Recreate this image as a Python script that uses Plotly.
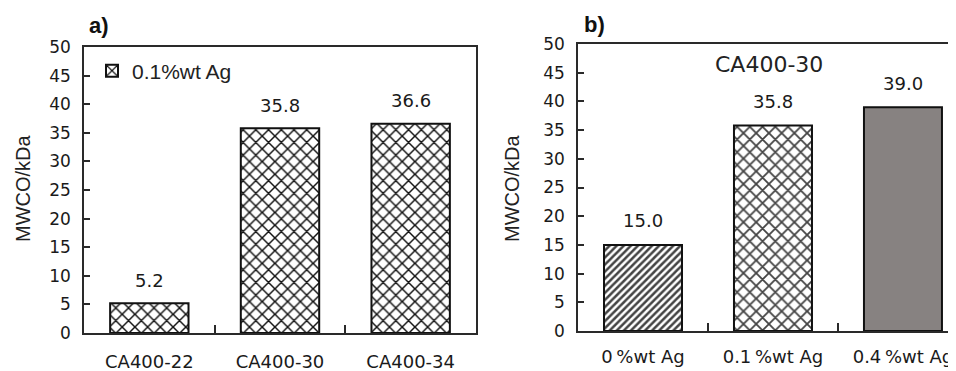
import plotly.graph_objects as go

# ---- data ----
cats_a = ["CA400-22", "CA400-30", "CA400-34"]
vals_a = [5.2, 35.8, 36.6]
series_a = "0.1%wt Ag"

cats_b = ["0\u2009%wt Ag", "0.1\u2009%wt Ag", "0.4\u2009%wt Ag"]
vals_b = [15.0, 35.8, 39.0]
group_b = "CA400-30"

y_ticks = [0, 5, 10, 15, 20, 25, 30, 35, 40, 45, 50]
y_title = "MWCO/kDa"

TICKFONT = dict(family="DejaVu Sans", size=17, color="#1a1a1a")
XFONT = dict(family="DejaVu Sans", size=18, color="#1a1a1a")
AXC = "#2a2a2a"

# page body has an 8px default margin: work in screen pixels and convert
OFF = 8
W, H = 956 - OFF, 371 - OFF
def px(sx):
    return (sx - OFF) / W
def py(sy):
    return (H - (sy - OFF)) / H

fig = go.Figure()

fig.add_trace(go.Bar(
    x=cats_a, y=vals_a, name=series_a, xaxis="x", yaxis="y", width=0.6,
    marker=dict(color="white", line=dict(color="#111", width=2),
                pattern=dict(shape="x", size=9, solidity=0.3, fgcolor="#111", bgcolor="white",
                             fgopacity=1)),
    showlegend=True,
))

fig.add_trace(go.Bar(
    x=cats_b, y=vals_b, name=group_b, xaxis="x2", yaxis="y2", width=0.6,
    marker=dict(color=["white", "white", "#878281"], line=dict(color="#111", width=2),
                pattern=dict(shape=["/", "x", ""], size=[5, 9, 9], solidity=[0.5, 0.36, 0.3],
                             fgcolor="#000", fgopacity=1, bgcolor=["white", "white", "#878281"])),
    showlegend=False,
))

def xax(domain, rng, cats, standoff):
    return dict(domain=domain, range=rng, type="category", categoryarray=cats, automargin=False,
                showline=True, linecolor=AXC, linewidth=1.5, mirror=True,
                ticks="inside", tickson="boundaries", ticklen=8, tickcolor=AXC, tickwidth=1.5,
                tickfont=XFONT, ticklabelstandoff=standoff, showgrid=False, zeroline=False,
                fixedrange=True)

def yax(domain, anchor, mirror):
    return dict(domain=domain, anchor=anchor, range=[0, 50], tickvals=y_ticks, automargin=False,
                showline=True, linecolor=AXC, linewidth=1.5, mirror=mirror,
                ticks="inside", ticklen=6, tickcolor=AXC, tickwidth=1.5,
                tickfont=TICKFONT, ticklabelstandoff=8, showgrid=False, zeroline=False,
                fixedrange=True)

fig.update_layout(
    width=W, height=H, margin=dict(l=0, r=0, t=0, b=0, autoexpand=False),
    paper_bgcolor="white", plot_bgcolor="white",
    xaxis=xax([px(84), px(476)], [-0.5, 2.5], cats_a, 12) | dict(anchor="y"),
    yaxis=yax([py(333), py(47)], "x", True),
    xaxis2=xax([px(578), 1.0], [-0.5, 2.408], cats_b, 9) | dict(anchor="y2"),
    yaxis2=yax([py(331), py(44)], "x2", False),
    legend=dict(x=px(92), xanchor="left", y=py(71), yanchor="middle",
                bgcolor="rgba(0,0,0,0)", borderwidth=0,
                font=dict(family="Liberation Sans", size=21, color="#222")),
    showlegend=True,
)

ann = []
for c, v in zip(cats_a, vals_a):
    ann.append(dict(x=c, y=v, xref="x", yref="y", text=f"{v:.1f}", showarrow=False,
                    yshift=23, yanchor="middle", font=XFONT))
for c, v in zip(cats_b, vals_b):
    ann.append(dict(x=c, y=v, xref="x2", yref="y2", text=f"{v:.1f}", showarrow=False,
                    yshift=24, yanchor="middle", font=XFONT))
ann += [
    dict(x=px(87), y=py(26), xref="paper", yref="paper", text="<b>a)</b>", showarrow=False,
         xanchor="left", yanchor="middle", font=dict(family="Liberation Sans", size=22, color="#111")),
    dict(x=px(582), y=py(24), xref="paper", yref="paper", text="<b>b)</b>", showarrow=False,
         xanchor="left", yanchor="middle", font=dict(family="Liberation Sans", size=22, color="#111")),
    dict(x=px(769), y=py(64), xref="paper", yref="paper", text=group_b, showarrow=False,
         xanchor="center", yanchor="middle", font=dict(family="DejaVu Sans", size=22, color="#222")),
    dict(x=px(23), y=py(188), xref="paper", yref="paper", text=y_title, showarrow=False,
         textangle=-90, xanchor="center", yanchor="middle",
         font=dict(family="Liberation Sans", size=20, color="#222")),
    dict(x=px(512), y=py(188), xref="paper", yref="paper", text=y_title, showarrow=False,
         textangle=-90, xanchor="center", yanchor="middle",
         font=dict(family="Liberation Sans", size=20, color="#222")),
]
fig.update_layout(annotations=ann)

fig.write_html("out.html")
